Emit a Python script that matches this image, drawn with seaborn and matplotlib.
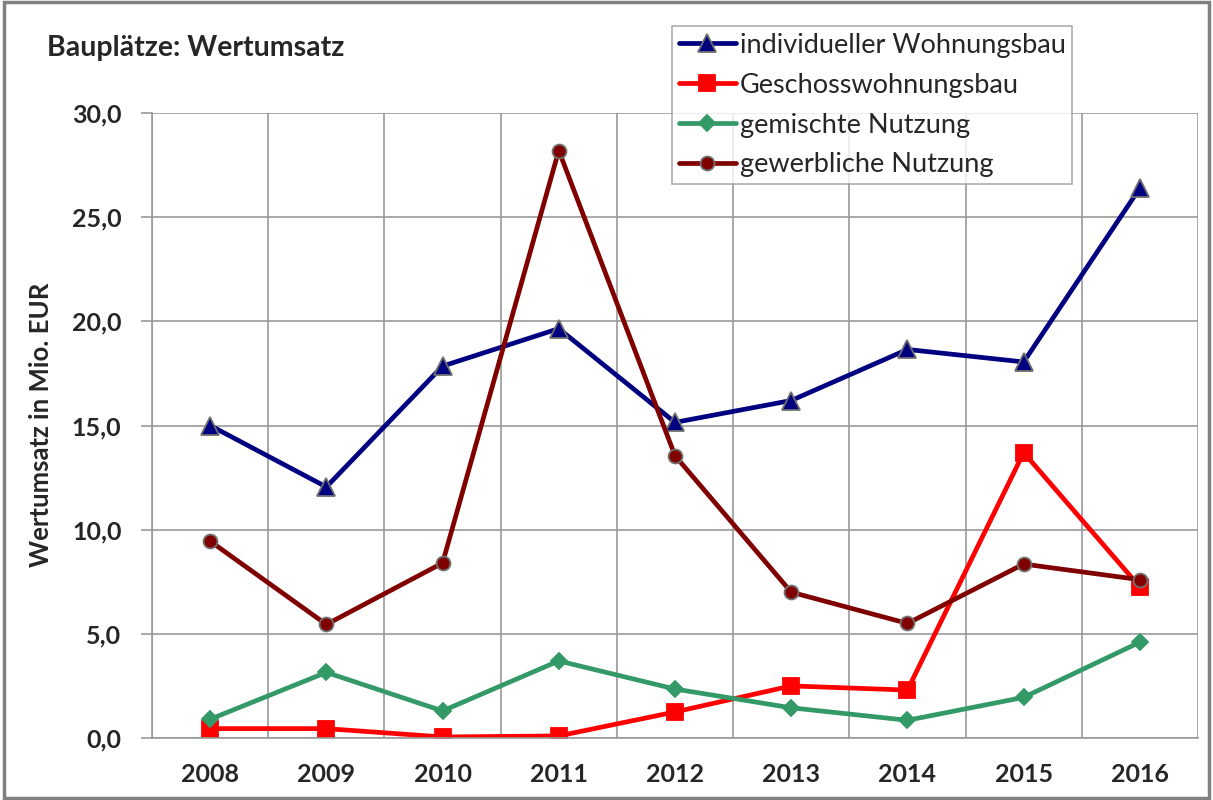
import seaborn as sns
import matplotlib.pyplot as plt
import pandas as pd
from matplotlib.patches import Rectangle
from matplotlib.ticker import FixedLocator, FuncFormatter

years = ["2008", "2009", "2010", "2011", "2012", "2013", "2014", "2015", "2016"]
individuell = [15.0, 12.05, 17.85, 19.65, 15.15, 16.2, 18.65, 18.05, 26.4]
geschoss = [0.45, 0.45, 0.05, 0.1, 1.25, 2.5, 2.3, 13.7, 7.25]
gemischt = [0.9, 3.15, 1.3, 3.7, 2.35, 1.45, 0.85, 1.95, 4.6]
gewerblich = [9.45, 5.45, 8.4, 28.2, 13.55, 7.0, 5.5, 8.35, 7.6]

series = [
    ("individueller Wohnungsbau", individuell, "#000080", "^", 13, "#707070"),
    ("Geschosswohnungsbau", geschoss, "#FF0000", "s", 12, "#FF0000"),
    ("gemischte Nutzung", gemischt, "#339966", "D", 8.5, "#339966"),
    ("gewerbliche Nutzung", gewerblich, "#800000", "o", 10, "#707070"),
]

sns.set_theme(style="white")
plt.rcParams["font.family"] = ["Lato", "DejaVu Sans"]

fig = plt.figure(figsize=(12.13, 8), dpi=100)
ax = fig.add_axes([152 / 1213, 1 - 738 / 800, (1198 - 152) / 1213, (738 - 113) / 800])

pos = list(range(len(years)))
for name, vals, color, marker, size, edge in series:
    df = pd.DataFrame({"x": pos, "y": vals})
    sns.lineplot(data=df, x="x", y="y", ax=ax, color=color, linewidth=3.4,
                 marker=marker, markersize=size, markeredgecolor=edge,
                 markeredgewidth=1.3, label=name)

ax.set_xlim(-0.5, len(years) - 0.5)
ax.set_ylim(0, 30)
ax.set_xticks(pos)
ax.set_xticklabels(years, fontsize=18, fontweight="bold")
ax.xaxis.set_minor_locator(FixedLocator([p - 0.5 for p in range(len(years) + 1)]))
ax.set_yticks([0, 5, 10, 15, 20, 25, 30])
ax.yaxis.set_major_formatter(FuncFormatter(lambda v, _: f"{v:.1f}".replace(".", ",")))
for lab in ax.get_yticklabels():
    lab.set_fontsize(18)
    lab.set_fontweight("bold")

ax.grid(False)
ax.grid(True, which="minor", axis="x", color="#999999", linewidth=1.2)
ax.grid(True, which="major", axis="y", color="#999999", linewidth=1.2)
ax.tick_params(axis="x", which="major", length=0, pad=18)
ax.tick_params(axis="x", which="minor", length=8, color="#999999", width=1.2)
ax.tick_params(axis="y", which="major", length=8, color="#999999", width=1.2, pad=14, left=True)
for side in ["top", "right"]:
    ax.spines[side].set_visible(False)
for side in ["left", "bottom"]:
    ax.spines[side].set_color("#999999")
    ax.spines[side].set_linewidth(1.2)

ax.set_xlabel("")
ax.set_ylabel("Wertumsatz in Mio. EUR", fontsize=18.5, fontweight="bold")
ax.yaxis.label.set_transform(fig.transFigure)
ax.yaxis.label.set_position((53 / 1213, 1 - 425 / 800))
ax.yaxis.set_label_coords(53 / 1213, 1 - 425 / 800, transform=fig.transFigure)

fig.text(47 / 1213, 1 - 48 / 800, "Bauplätze: Wertumsatz", fontsize=20.5,
         fontweight="bold", va="center", ha="left")

leg = ax.legend(loc="upper left", bbox_to_anchor=(672 / 1213, 1 - 26 / 800),
                bbox_transform=fig.transFigure, fontsize=19.5, frameon=True,
                fancybox=False, borderpad=0.25, labelspacing=0.55,
                handlelength=2.1, handletextpad=0.15, borderaxespad=0)
leg.get_frame().set_edgecolor("#999999")
leg.get_frame().set_linewidth(1.2)
leg.set_zorder(10)

fig.patches.append(Rectangle((0.003, 0.003), 0.994, 0.994, transform=fig.transFigure,
                             fill=False, edgecolor="#808080", linewidth=2.5))

fig.savefig("out.png", dpi=100)
